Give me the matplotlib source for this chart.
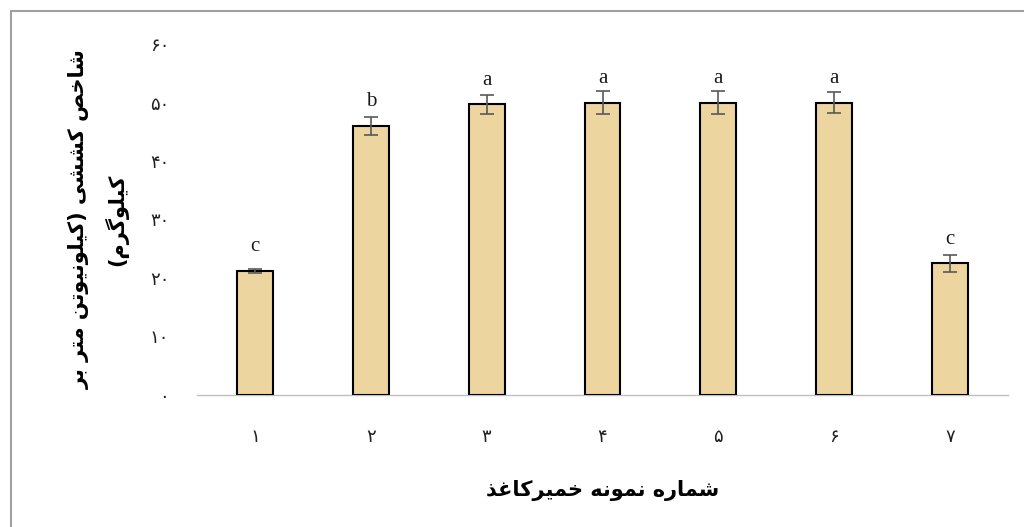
import matplotlib
matplotlib.use("Agg")
import matplotlib.pyplot as plt
from matplotlib.patches import Rectangle

# tensile index per pulp sample
samples = ["۱", "۲", "۳", "۴", "۵", "۶", "۷"]
tensile = [21.2, 46.0, 49.7, 50.0, 50.0, 50.0, 22.5]
tensile_err = [0.3, 1.6, 1.6, 2.0, 1.9, 1.8, 1.4]
groups = ["c", "b", "a", "a", "a", "a", "c"]
y_ticks = [0, 10, 20, 30, 40, 50, 60]
y_tick_labels = ["۰", "۱۰", "۲۰", "۳۰", "۴۰", "۵۰", "۶۰"]

x_title = "شماره نمونه خمیرکاغذ"
y_title = ["شاخص کششی (کیلونیوتن متر بر", "کیلوگرم)"]

# contextual forms: isolated, final, initial, medial
FORMS = {
    "ا": ("\uFE8D", "\uFE8E", None, None),
    "ب": ("\uFE8F", "\uFE90", "\uFE91", "\uFE92"),
    "ت": ("\uFE95", "\uFE96", "\uFE97", "\uFE98"),
    "خ": ("\uFEA5", "\uFEA6", "\uFEA7", "\uFEA8"),
    "ذ": ("\uFEAB", "\uFEAC", None, None),
    "ر": ("\uFEAD", "\uFEAE", None, None),
    "ش": ("\uFEB5", "\uFEB6", "\uFEB7", "\uFEB8"),
    "ص": ("\uFEB9", "\uFEBA", "\uFEBB", "\uFEBC"),
    "غ": ("\uFECD", "\uFECE", "\uFECF", "\uFED0"),
    "ل": ("\uFEDD", "\uFEDE", "\uFEDF", "\uFEE0"),
    "م": ("\uFEE1", "\uFEE2", "\uFEE3", "\uFEE4"),
    "ن": ("\uFEE5", "\uFEE6", "\uFEE7", "\uFEE8"),
    "ه": ("\uFEE9", "\uFEEA", "\uFEEB", "\uFEEC"),
    "و": ("\uFEED", "\uFEEE", None, None),
    "ک": ("\uFB8E", "\uFB8F", "\uFB90", "\uFB91"),
    "گ": ("\uFB92", "\uFB93", "\uFB94", "\uFB95"),
    "ی": ("\uFBFC", "\uFBFD", "\uFBFE", "\uFBFF"),
}
MIRROR = {"(": ")", ")": "("}


def rtl(text):
    # join letters, then lay them out right to left
    out = []
    for i, ch in enumerate(text):
        if ch not in FORMS:
            out.append(ch)
            continue
        prev = text[i - 1] if i > 0 else None
        nxt = text[i + 1] if i + 1 < len(text) else None
        join_prev = prev in FORMS and FORMS[prev][2] is not None
        join_next = nxt in FORMS and FORMS[ch][2] is not None
        iso, fin, ini, med = FORMS[ch]
        if join_prev and join_next:
            out.append(med)
        elif join_prev:
            out.append(fin)
        elif join_next:
            out.append(ini)
        else:
            out.append(iso)
    return "".join(MIRROR.get(c, c) for c in reversed(out))


plt.rcParams["font.family"] = ["DejaVu Sans"]

fig = plt.figure(figsize=(10.24, 5.27), dpi=100)
ax = fig.add_axes([0.1924, 0.2505, 0.7920, 0.6660])

x = list(range(len(samples)))
ax.bar(x, tensile, width=0.31, color="#EDD5A0", edgecolor="black",
       linewidth=1.5, zorder=3)
ax.errorbar(x, tensile, yerr=tensile_err, fmt="none", ecolor="#595959",
            elinewidth=1.2, capsize=5, capthick=1.2, zorder=4)

for xi, v, g in zip(x, tensile, groups):
    ax.text(xi, v + 4.1, g, ha="center", va="center", fontsize=15,
            family="Liberation Serif", color="#1a1a1a")

ax.set_xlim(-0.5, len(samples) - 0.5)
ax.set_ylim(0, 60)
ax.set_xticks(x)
ax.set_xticklabels(samples, fontsize=13)
ax.set_yticks(y_ticks)
ax.set_yticklabels(y_tick_labels, fontsize=13)
ax.tick_params(axis="both", length=0, labelcolor="#222222")
ax.tick_params(axis="y", pad=20)
ax.tick_params(axis="x", pad=24)

for side in ["top", "right", "left"]:
    ax.spines[side].set_visible(False)
ax.spines["bottom"].set_color("#BFBFBF")
ax.spines["bottom"].set_linestyle((0, (2, 1)))
ax.spines["bottom"].set_linewidth(1.0)

ax.set_xlabel(rtl(x_title), fontsize=15, fontweight="bold")
ax.xaxis.set_label_coords(0.5, -0.242)
ax.set_ylabel("\n".join(rtl(s) for s in y_title), fontsize=15,
              fontweight="bold", linespacing=1.75)
ax.yaxis.set_label_coords(-0.085, 0.5)

# outer frame
fig.add_artist(Rectangle((11 / 1024, -0.1), 1.2, 1 - 11 / 527 + 0.1,
                         transform=fig.transFigure, fill=False,
                         edgecolor="#A0A0A0", linewidth=1.5))

fig.savefig("out.png", dpi=100)
